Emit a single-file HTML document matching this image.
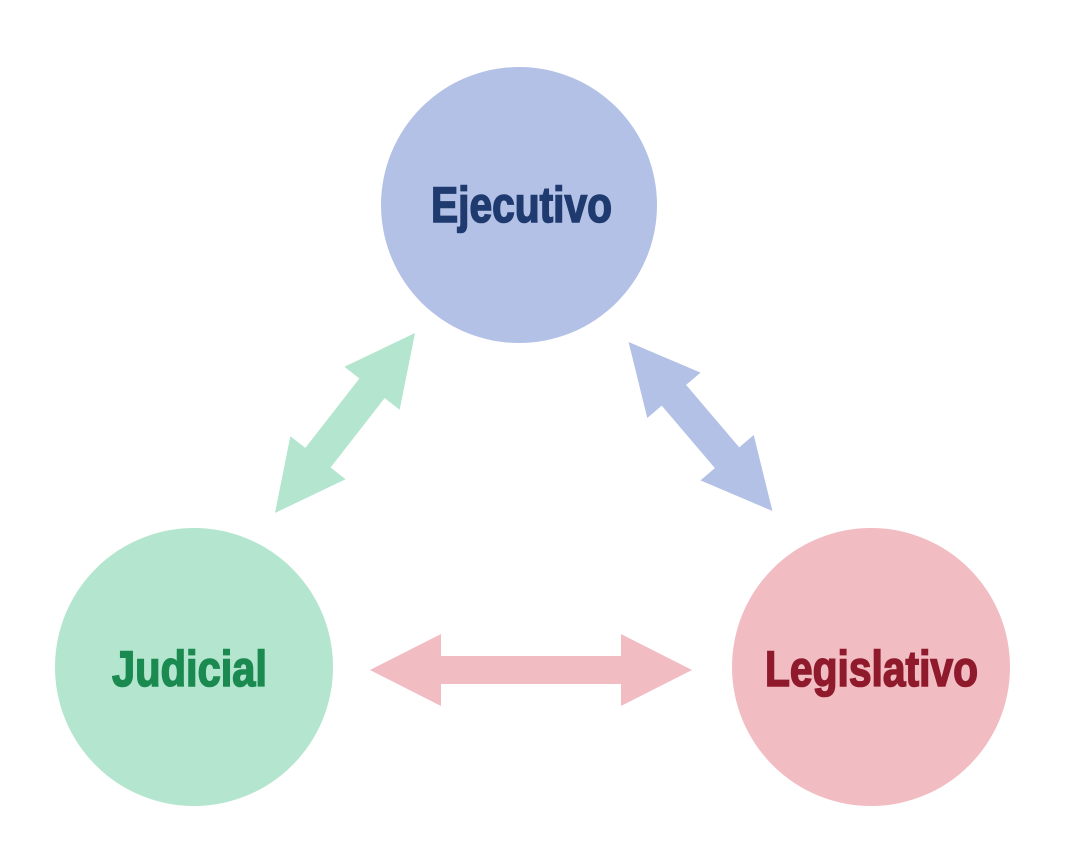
<!DOCTYPE html>
<html><head><meta charset="utf-8"><style>html,body{margin:0;padding:0;background:#fff}svg{display:block}</style></head>
<body>
<svg width="1079" height="861" viewBox="0 0 1079 861" xmlns="http://www.w3.org/2000/svg">
<rect width="1079" height="861" fill="#fff"/>
<circle cx="519" cy="205" r="138" fill="#b3c1e6"/>
<circle cx="194" cy="667" r="139" fill="#b3e5cf"/>
<circle cx="871" cy="667" r="139" fill="#f2bcc3"/>
<g transform="translate(531,670)">
<polygon fill="#f2bcc3" points="-161,0 -90,-36 -90,-14 90,-14 90,-36 161,0 90,36 90,14 -90,14 -90,36"/>
</g>
<g transform="translate(345,423) rotate(-52.1)">
<polygon fill="#b3e5cf" points="-114,0 -44,-35 -44,-16 44,-16 44,-35 114,0 44,35 44,16 -44,16 -44,35"/>
</g>
<g transform="translate(700.5,426.5) rotate(49.6)">
<polygon fill="#b3c1e6" points="-111,0 -41,-35 -41,-16 41,-16 41,-35 111,0 41,35 41,16 -41,16 -41,35"/>
</g>
<g font-family="'Liberation Sans Narrow','Liberation Sans',sans-serif" font-weight="bold" font-size="50" stroke-width="1.6">
<text x="431" y="222" textLength="181" lengthAdjust="spacingAndGlyphs" fill="#1f3a6e" stroke="#1f3a6e">Ejecutivo</text>
<text x="112" y="686" textLength="155" lengthAdjust="spacingAndGlyphs" fill="#1b8a50" stroke="#1b8a50">Judicial</text>
<text x="765" y="686" textLength="213" lengthAdjust="spacingAndGlyphs" fill="#8e1a2c" stroke="#8e1a2c">Legislativo</text>
</g>
</svg>
</body></html>
